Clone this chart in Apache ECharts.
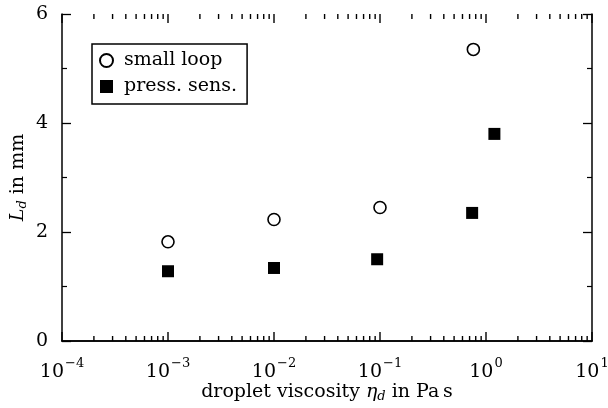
<!DOCTYPE html>
<html>
<head>
<meta charset="utf-8">
<script src="https://cdn.jsdelivr.net/npm/echarts@6/dist/echarts.min.js"></script>
<style>
  html, body { margin: 0; padding: 0; background: #fff; }
  #chart { width: 608px; height: 408px; }
</style>
</head>
<body>
<div id="chart"></div>
<script>
// data
var smallLoop = [
  [0.001, 1.82],
  [0.01, 2.23],
  [0.1, 2.45],
  [0.76, 5.35]
];
var pressSens = [
  [0.001, 1.28],
  [0.01, 1.34],
  [0.094, 1.5],
  [0.74, 2.35],
  [1.2, 3.8]
];
var legendNames = ["small loop", "press. sens."];

// tick positions on the log axis
var decades = [1e-4, 1e-3, 1e-2, 1e-1, 1, 10];
var minorMult = [2, 3, 4, 5, 6, 7, 8, 9];
var majorTicks = decades.map(function(d) { return [d, 0, 9]; });
var minorTicks = [];
decades.slice(0, 5).forEach(function(d) {
  minorMult.forEach(function(m) {
    minorTicks.push([d * m, 0, 5]);
  });
});

var font = "DejaVu Serif";
var fs = 19;

var myChart = echarts.init(document.getElementById("chart"));

var axisLineStyle = { color: "#000", width: 1.5 };

var option = {
  animation: false,
  backgroundColor: "#fff",
  textStyle: { fontFamily: font },
  grid: { left: 62, right: 16, top: 14, bottom: 67, outerBoundsMode: "none", containLabel: false },
  legend: {
    data: legendNames,
    orient: "vertical",
    left: 92,
    top: 44,
    padding: [7, 10, 8, 7],
    itemGap: 7,
    itemWidth: 13,
    itemHeight: 13,
    borderColor: "#000",
    borderWidth: 1.5,
    backgroundColor: "#fff",
    textStyle: {
      fontFamily: font,
      fontSize: fs,
      color: "#000",
      padding: [0, 0, 0, 6]
    }
  },
  xAxis: [
    {
      type: "log",
      logBase: 10,
      min: 1e-4,
      max: 10,
      interval: 1,
      position: "bottom",
      name: "droplet viscosity {i|η}{sub|d} in Pa\u2009s",
      nameLocation: "middle",
      nameGap: 40,
      nameMoveOverlap: false,
      nameTextStyle: {
        fontFamily: font,
        fontSize: fs,
        color: "#000",
        rich: {
          i: { fontFamily: font, fontStyle: "italic", fontSize: fs, color: "#000" },
          sub: { fontFamily: font, fontStyle: "italic", fontSize: 13, color: "#000", padding: [9, 0, 0, 0] }
        }
      },
      axisLine: { show: true, lineStyle: axisLineStyle },
      axisTick: { show: false },
      axisLabel: {
        margin: 16,
        formatter: function(v) {
          var e = Math.round(Math.log10(v));
          var s = e < 0 ? "\u2212" + Math.abs(e) : String(e);
          return "{b|10}{s|" + s + "}";
        },
        rich: {
          b: { fontFamily: font, fontSize: fs, color: "#000" },
          s: { fontFamily: font, fontSize: 13, color: "#000", padding: [0, 0, 17, 1] }
        }
      },
      splitLine: { show: false }
    },
    {
      type: "log",
      logBase: 10,
      min: 1e-4,
      max: 10,
      interval: 1,
      position: "top",
      axisLine: { show: true, lineStyle: axisLineStyle },
      axisTick: { show: false },
      axisLabel: { show: false },
      splitLine: { show: false }
    }
  ],
  yAxis: [
    {
      type: "value",
      min: 0,
      max: 6,
      interval: 2,
      position: "left",
      name: "{i|L}{sub|d} in mm",
      nameLocation: "middle",
      nameGap: 33,
      nameMoveOverlap: false,
      nameRotate: 90,
      nameTextStyle: {
        fontFamily: font,
        fontSize: fs,
        color: "#000",
        rich: {
          i: { fontFamily: font, fontStyle: "italic", fontSize: fs, color: "#000" },
          sub: { fontFamily: font, fontStyle: "italic", fontSize: 13, color: "#000", padding: [9, 0, 0, 0] }
        }
      },
      axisLine: { show: true, lineStyle: axisLineStyle },
      axisTick: { show: true, inside: true, length: 9, lineStyle: { color: "#000", width: 1.3 } },
      minorTick: { show: true, splitNumber: 2, length: 5, lineStyle: { color: "#000", width: 1.2 } },
      axisLabel: { margin: 14, fontFamily: font, fontSize: fs, color: "#000" },
      splitLine: { show: false }
    },
    {
      type: "value",
      min: 0,
      max: 6,
      interval: 2,
      position: "right",
      axisLine: { show: true, lineStyle: axisLineStyle },
      axisTick: { show: true, inside: true, length: 9, lineStyle: { color: "#000", width: 1.3 } },
      minorTick: { show: true, splitNumber: 2, length: 5, lineStyle: { color: "#000", width: 1.2 } },
      axisLabel: { show: false },
      splitLine: { show: false }
    }
  ],
  series: [
    {
      name: "small loop",
      type: "scatter",
      xAxisIndex: 0,
      yAxisIndex: 0,
      symbol: "circle",
      symbolSize: 12,
      itemStyle: { color: "#fff", borderColor: "#000", borderWidth: 1.6, opacity: 1 },
      data: smallLoop,
      z: 5
    },
    {
      name: "press. sens.",
      type: "scatter",
      xAxisIndex: 0,
      yAxisIndex: 0,
      symbol: "rect",
      symbolSize: 12,
      itemStyle: { color: "#000", opacity: 1 },
      data: pressSens,
      z: 5
    },
    {
      // log ticks (major and minor), bottom and top, pointing inwards
      type: "custom",
      xAxisIndex: 0,
      yAxisIndex: 0,
      silent: true,
      clip: false,
      encode: { x: 0, y: 1 },
      data: majorTicks.concat(minorTicks),
      renderItem: function(params, api) {
        var x = api.value(0);
        var len = api.value(2);
        var b = api.coord([x, 0]);
        var t = api.coord([x, 6]);
        return {
          type: "group",
          children: [
            { type: "line", shape: { x1: b[0], y1: b[1], x2: b[0], y2: b[1] - len }, style: { stroke: "#000", lineWidth: 1.4 } },
            { type: "line", shape: { x1: t[0], y1: t[1], x2: t[0], y2: t[1] + len }, style: { stroke: "#000", lineWidth: 1.4 } }
          ]
        };
      }
    }
  ]
};

myChart.setOption(option);
</script>
</body>
</html>
